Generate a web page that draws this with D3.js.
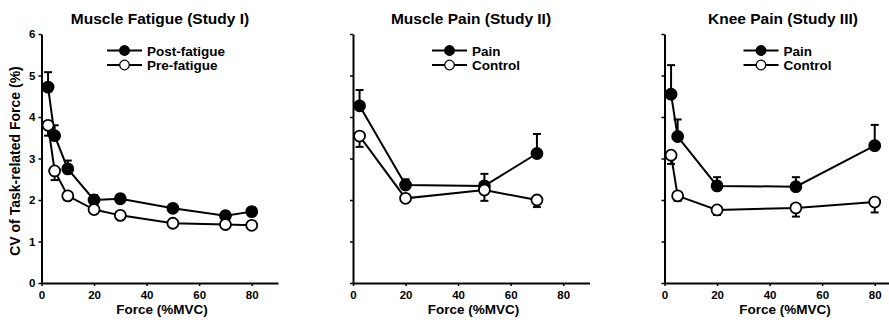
<!DOCTYPE html>
<html>
<head>
<meta charset="utf-8">
<script src="https://cdn.jsdelivr.net/npm/d3@7"></script>
<style>
  html, body { margin: 0; padding: 0; background: #fff; }
  svg { display: block; }
  text { font-family: "Liberation Sans", Arial, sans-serif; font-weight: bold; fill: #000; }
</style>
</head>
<body>
<svg id="chart" width="889" height="322"></svg>
<script>
// Study I: muscle fatigue
const fatigueForce = [2.5, 5, 10, 20, 30, 50, 70, 80];
const postFatigue = [4.72, 3.55, 2.75, 2.00, 2.03, 1.80, 1.62, 1.72];
const postFatigueErr = [0.36, 0.25, 0.20, 0.12, 0.10, 0.07, 0.10, 0.05];
const preFatigue = [3.80, 2.70, 2.10, 1.77, 1.63, 1.44, 1.41, 1.39];
const preFatigueErr = [0.25, 0.22, 0.10, 0.09, 0.07, 0.05, 0.08, 0.05];

// Study II: muscle pain
const musclePainForce = [2.5, 20, 50, 70];
const musclePain = [4.27, 2.36, 2.34, 3.12];
const musclePainErr = [0.38, 0.14, 0.29, 0.47];
const musclePainCtrl = [3.54, 2.04, 2.24, 2.00];
const musclePainCtrlErr = [0.26, 0.08, 0.26, 0.17];

// Study III: knee pain
const kneePainForce = [2.5, 5, 20, 50, 80];
const kneePain = [4.55, 3.53, 2.34, 2.32, 3.31];
const kneePainErr = [0.70, 0.41, 0.21, 0.23, 0.50];
const kneePainCtrl = [3.08, 2.10, 1.76, 1.81, 1.95];
const kneePainCtrlErr = [0.21, 0.12, 0.12, 0.21, 0.25];

const yTicks = [0, 1, 2, 3, 4, 5, 6];
const xTicks = [0, 20, 40, 60, 80];

const panels = [
  { title: "Muscle Fatigue (Study I)", left: 41.5, yLabels: true,
    force: fatigueForce,
    series: [
      { name: "Post-fatigue", values: postFatigue, err: postFatigueErr, filled: true },
      { name: "Pre-fatigue", values: preFatigue, err: preFatigueErr, filled: false }
    ], legendX: 107, titleX: 160 },
  { title: "Muscle Pain (Study II)", left: 353, yLabels: false,
    force: musclePainForce,
    series: [
      { name: "Pain", values: musclePain, err: musclePainErr, filled: true },
      { name: "Control", values: musclePainCtrl, err: musclePainCtrlErr, filled: false }
    ], legendX: 432, titleX: 471 },
  { title: "Knee Pain (Study III)", left: 664.5, yLabels: false,
    force: kneePainForce,
    series: [
      { name: "Pain", values: kneePain, err: kneePainErr, filled: true },
      { name: "Control", values: kneePainCtrl, err: kneePainCtrlErr, filled: false }
    ], legendX: 743.5, titleX: 783 }
];

const svg = d3.select("#chart");
const plotTop = 34, plotBottom = 283;

panels.forEach(p => {
  const x = d3.scaleLinear().domain([0, 90]).range([p.left, p.left + 236.5]);
  const y = d3.scaleLinear().domain([0, 6]).range([plotBottom, plotTop]);
  const g = svg.append("g");

  // axes
  const yAxis = d3.axisLeft(y).tickValues(yTicks).tickSize(3).tickSizeOuter(0)
    .tickFormat(p.yLabels ? d3.format("d") : () => "");
  const xAxis = d3.axisBottom(x).tickValues(xTicks).tickSize(3).tickSizeOuter(0)
    .tickFormat(d3.format("d"));

  const ya = g.append("g").attr("transform", `translate(${p.left},0)`).call(yAxis);
  const xa = g.append("g").attr("transform", `translate(0,${plotBottom})`).call(xAxis);
  [ya, xa].forEach(a => {
    a.select(".domain").attr("stroke", "#000").attr("stroke-width", 2);
    a.selectAll(".tick line").attr("stroke", "#000").attr("stroke-width", 1.5);
    a.selectAll("text").attr("font-size", 11.5).attr("font-weight", "bold")
      .attr("font-family", '"Liberation Sans", Arial, sans-serif');
  });
  ya.selectAll("text").attr("x", -6);
  xa.selectAll("text").attr("y", 5).attr("dy", "0.95em");

  // title and x label
  g.append("text").attr("x", p.titleX).attr("y", 24).attr("text-anchor", "middle")
    .attr("font-size", 15.5).text(p.title);
  g.append("text").attr("x", p.left + 120.5).attr("y", 313.5).attr("text-anchor", "middle")
    .attr("font-size", 13.5).text("Force (%MVC)");

  const line = d3.line().x(d => x(d[0])).y(d => y(d[1]));

  p.series.forEach(s => {
    const pts = p.force.map((f, i) => [f, s.values[i], s.err[i]]);
    // error bars: upward for filled, downward for open
    const dir = s.filled ? 1 : -1;
    const eb = g.append("g");
    eb.selectAll("line.v").data(pts).join("line").attr("class", "v")
      .attr("x1", d => x(d[0])).attr("x2", d => x(d[0]))
      .attr("y1", d => y(d[1])).attr("y2", d => y(d[1] + dir * d[2]))
      .attr("stroke", "#000").attr("stroke-width", 2);
    eb.selectAll("line.h").data(pts).join("line").attr("class", "h")
      .attr("x1", d => x(d[0]) - 4).attr("x2", d => x(d[0]) + 4)
      .attr("y1", d => y(d[1] + dir * d[2])).attr("y2", d => y(d[1] + dir * d[2]))
      .attr("stroke", "#000").attr("stroke-width", 2);

    g.append("path").datum(pts).attr("d", line)
      .attr("fill", "none").attr("stroke", "#000").attr("stroke-width", 2);

    g.append("g").selectAll("circle").data(pts).join("circle")
      .attr("cx", d => x(d[0])).attr("cy", d => y(d[1])).attr("r", 5.5)
      .attr("fill", s.filled ? "#000" : "#fff").attr("stroke", "#000").attr("stroke-width", 1.8);
  });

  // legend
  p.series.forEach((s, i) => {
    const ly = 50.5 + i * 14.5;
    const lg = g.append("g");
    lg.append("line").attr("x1", p.legendX).attr("x2", p.legendX + 35)
      .attr("y1", ly).attr("y2", ly).attr("stroke", "#000").attr("stroke-width", 2);
    lg.append("circle").attr("cx", p.legendX + 17.5).attr("cy", ly).attr("r", 4.8)
      .attr("fill", s.filled ? "#000" : "#fff").attr("stroke", "#000").attr("stroke-width", 1.3);
    lg.append("text").attr("x", p.legendX + 40).attr("y", ly + 5)
      .attr("font-size", 13.5).text(s.name);
  });
});

// shared y label
svg.append("text")
  .attr("transform", "translate(20,161) rotate(-90)")
  .attr("text-anchor", "middle").attr("font-size", 14)
  .text("CV of Task-related Force (%)");
</script>
</body>
</html>
